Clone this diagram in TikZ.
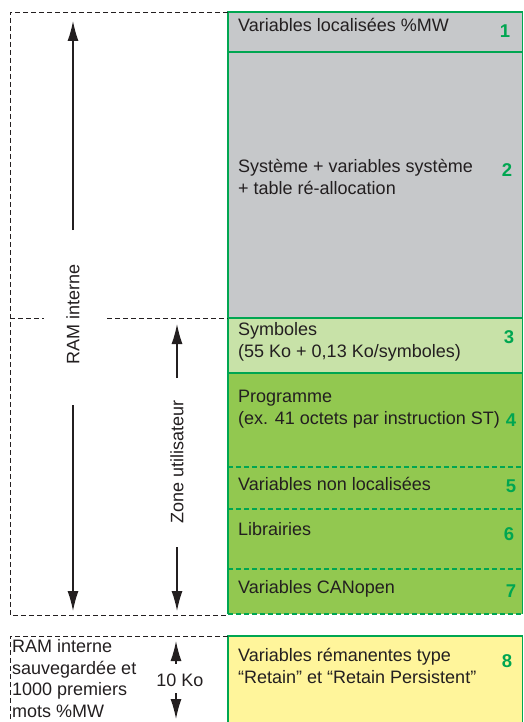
\documentclass[tikz,border=0pt]{standalone}
\usepackage{fontspec}
\setmainfont{Liberation Sans}
\usetikzlibrary{arrows.meta}

\definecolor{frame}{RGB}{0,166,81}
\definecolor{sysgray}{RGB}{198,200,202}
\definecolor{symgreen}{RGB}{200,226,168}
\definecolor{usergreen}{RGB}{146,200,80}
\definecolor{retainyellow}{RGB}{255,245,155}
\definecolor{ink}{RGB}{35,31,32}

\tikzset{
  lbl/.style={anchor=base west, inner sep=0pt, align=left,
    font=\fontsize{18}{21.5}\selectfont, text=ink},
  num/.style={anchor=base, inner sep=0pt,
    font=\fontsize{18.5}{21.5}\selectfont\bfseries, text=frame},
  zoneborder/.style={draw=frame, line width=1.1pt},
  zonesplit/.style={draw=frame, line width=1.1pt, dash pattern=on 5pt off 3pt},
  outline/.style={draw=ink, line width=0.9pt, dash pattern=on 5pt off 3pt},
  dimarrow/.style={draw=ink, line width=1.3pt,
    -{Latex[length=20pt,width=11pt]}},
  sidelbl/.style={inner sep=0pt, font=\fontsize{18}{21.5}\selectfont, text=ink}
}

\begin{document}
\begin{tikzpicture}[x=1pt,y=-1pt]
\useasboundingbox (0,0) rectangle (523,722);

% memory zones
\fill[sysgray] (228,12) rectangle (523,318);
\fill[symgreen] (228,318) rectangle (523,373);
\fill[usergreen] (228,373) rectangle (523,614);
\fill[retainyellow] (228,636) rectangle (523,722);

\draw[zoneborder] (523,12) -- (228,12) -- (228,614);
\draw[zoneborder] (228,52) -- (523,52);
\draw[zoneborder] (228,318) -- (523,318);
\draw[zoneborder] (228,373) -- (523,373);
\draw[zoneborder] (522.5,12) -- (522.5,614);
\draw[zonesplit] (228,467) -- (523,467);
\draw[zonesplit] (228,509) -- (523,509);
\draw[zonesplit] (228,569) -- (523,569);
\draw[zonesplit] (228,614) -- (523,614);
\draw[zoneborder] (228,722) -- (228,636) -- (523,636);
\draw[zoneborder] (522.5,636) -- (522.5,722);

% dashed outlines of the RAM areas
\draw[outline] (228,12) -- (10,12) -- (10,615) -- (228,615);
\draw[outline] (10,318) -- (44,318);
\draw[outline] (107,318) -- (228,318);
\draw[outline] (228,636) -- (10,636) -- (10,722);

% zone texts (multi-line nodes are placed by their last baseline)
\node[lbl] (z1) at (238,32) {Variables localisées \%MW};
\node[lbl] (z2) at (238,194) {Système + variables système\\+ table ré-allocation};
\node[lbl] (z3) at (238,357) {Symboles\\(55 Ko + 0,13 Ko/symboles)};
\node[lbl] (z4) at (238,424) {Programme\\(ex. 41 octets par instruction ST)};
\node[lbl] (z5) at (238,490) {Variables non localisées};
\node[lbl] (z6) at (238,535) {Librairies};
\node[lbl] (z7) at (238,593) {Variables CANopen};
\node[lbl] (z8) at (238,683) {Variables rémanentes type\\“Retain” et “Retain Persistent”};

% zone numbers
\node[num] (n1) at (505,38) {1};
\node[num] (n2) at (507,177) {2};
\node[num] (n3) at (509,343) {3};
\node[num] (n4) at (511,426) {4};
\node[num] (n5) at (511,492) {5};
\node[num] (n6) at (509,540) {6};
\node[num] (n7) at (511,597) {7};
\node[num] (n8) at (507,667) {8};

% internal RAM span
\node[sidelbl, rotate=90] (ram) at (73,314) {RAM interne};
\coordinate (ramtop) at (73,21);
\coordinate (ramup) at (73,230);
\coordinate (ramlow) at (73,405);
\coordinate (rambot) at (73,611);
\draw[dimarrow] (ramup) -- (ramtop);
\draw[dimarrow] (ramlow) -- (rambot);

% user zone span
\node[sidelbl, rotate=90] (user) at (177,462) {Zone utilisateur};
\coordinate (usertop) at (177,324);
\coordinate (userup) at (177,378);
\coordinate (userlow) at (177,547);
\coordinate (userbot) at (177,611);
\draw[dimarrow] (userup) -- (usertop);
\draw[dimarrow] (userlow) -- (userbot);

% saved RAM span
\node[lbl] (saved) at (12,717) {RAM interne\\sauvegardée et\\1000 premiers\\mots \%MW};
\node[sidelbl] (tenko) at (180,680) {10 Ko};
\coordinate (savtop) at (176,641);
\coordinate (savup) at (176,664);
\coordinate (savlow) at (176,693);
\coordinate (savbot) at (176,719);
\draw[dimarrow] (savup) -- (savtop);
\draw[dimarrow] (savlow) -- (savbot);
\end{tikzpicture}
\end{document}
